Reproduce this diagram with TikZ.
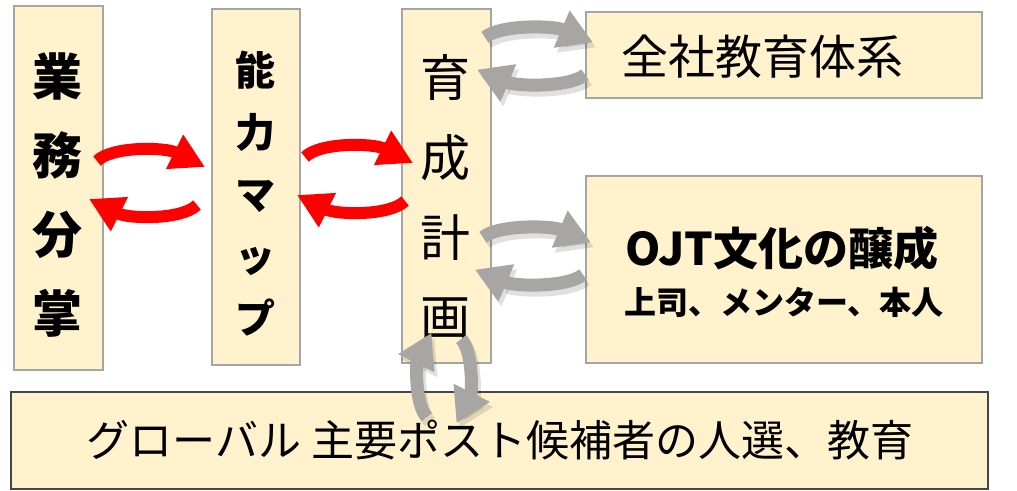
\documentclass[tikz,border=0pt]{standalone}
\usepackage{fontspec}
\setmainfont{Noto Sans CJK JP}
\usetikzlibrary{arrows.meta}
\definecolor{boxfill}{RGB}{255,242,204}
\definecolor{boxline}{RGB}{165,165,165}
\definecolor{boxdark}{RGB}{70,70,70}
\definecolor{cycgray}{RGB}{168,165,165}
\definecolor{cycred}{RGB}{255,0,0}
\newcommand\cycpair[3]{%
  \begin{scope}[shift={#1},#2]
    \draw[#3] (-50,-22) .. controls (-35,-37) and (18,-36) .. (58,-16);
    \draw[#3] (50,22) .. controls (35,37) and (-18,36) .. (-58,16);
  \end{scope}}
\tikzset{
  box/.style={draw=boxline, line width=1.5pt, fill=boxfill, inner sep=0pt, anchor=north west},
  redarr/.style={line width=12pt, cycred, -{Triangle[length=34pt,width=36pt]}},
  grayarr/.style={line width=13pt, cycgray, -{Triangle[length=34pt,width=38pt]}},
  grayshade/.style={line width=13pt, black, opacity=0.12, -{Triangle[length=34pt,width=38pt]}},
}
\begin{document}
\begin{tikzpicture}[x=1pt,y=-1pt]
\useasboundingbox (0,0) rectangle (1017,490);
\node[box, minimum width=89pt, minimum height=364pt] (b1) at (13,5) {};
\node[box, minimum width=88pt, minimum height=356pt] (b2) at (211,8) {};
\node[box, minimum width=89pt, minimum height=354pt] (b3) at (401,8) {};
\node[box, minimum width=396pt, minimum height=86pt] (b4) at (585,11) {};
\node[box, minimum width=396pt, minimum height=187pt] (b5) at (585,175) {};
\node[box, draw=boxdark, minimum width=977pt, minimum height=97pt] (b6) at (10,391) {};

\node[align=center, inner sep=0pt, font={\fontsize{50}{79}\selectfont\bfseries}] (t1) at (57.5,195) {業\\務\\分\\掌};
\node[align=center, inner sep=0pt, font={\fontsize{40}{62}\selectfont\bfseries}] (t2) at (255,194) {能\\力\\マ\\ッ\\プ};
\node[align=center, inner sep=0pt, font={\fontsize{50}{80}\selectfont}] (t3) at (445.5,197) {育\\成\\計\\画};
\node[inner sep=0pt, font={\fontsize{47}{50}\selectfont}] (t4) at (762,57) {全社教育体系};
\node[inner sep=0pt, font={\fontsize{45}{48}\selectfont\bfseries}] (t5) at (782,248) {OJT文化の醸成};
\node[inner sep=0pt, font={\fontsize{32}{36}\selectfont\bfseries}] (t6) at (784,302) {上司、メンター、本人};
\node[inner sep=0pt, font={\fontsize{43}{46}\selectfont}] (t7) at (500,440) {グローバル 主要ポスト候補者の人選、教育};

\coordinate (c12) at (147,183);
\coordinate (c23) at (355,179);
\coordinate (c34) at (535,56);
\coordinate (c35) at (533,256);
\coordinate (c36) at (444,378);
\coordinate (c34s) at (538,61);
\coordinate (c35s) at (536,261);
\coordinate (c36s) at (447,383);

\cycpair{(c12)}{}{redarr}
\cycpair{(c23)}{}{redarr}
\cycpair{(c34s)}{yscale=0.85}{grayshade}
\cycpair{(c34)}{yscale=0.85}{grayarr}
\cycpair{(c35s)}{yscale=0.85}{grayshade}
\cycpair{(c35)}{yscale=0.85}{grayarr}
\cycpair{(c36s)}{rotate=-90,scale=0.78}{grayshade}
\cycpair{(c36)}{rotate=-90,scale=0.78}{grayarr}
\end{tikzpicture}
\end{document}
